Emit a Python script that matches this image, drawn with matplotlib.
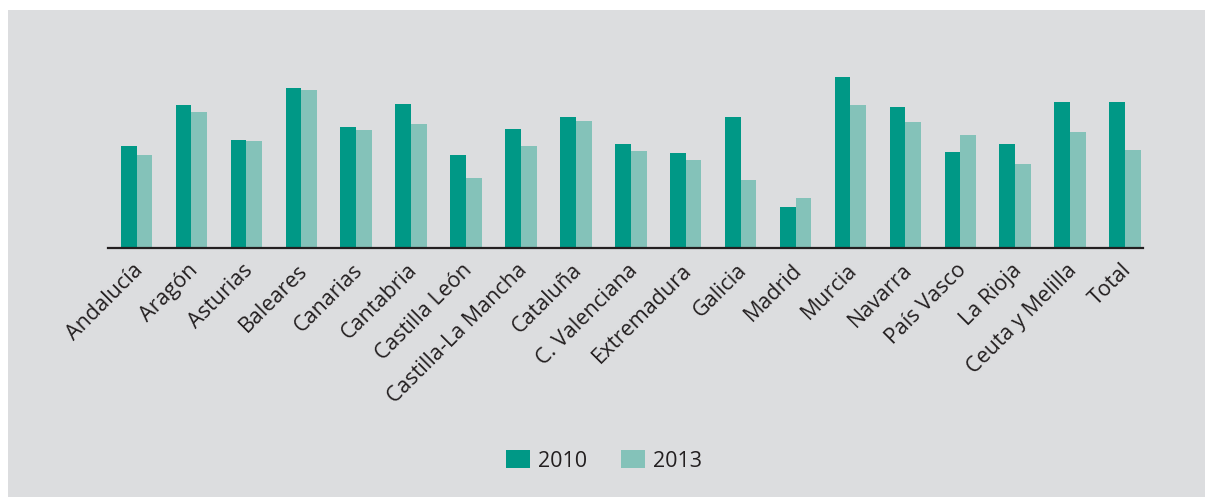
import matplotlib
matplotlib.use("Agg")
import matplotlib.pyplot as plt
import matplotlib.transforms as mtransforms
import numpy as np
from matplotlib.patches import Rectangle, Patch

categories = ["Andalucía", "Aragón", "Asturias", "Baleares", "Canarias", "Cantabria",
              "Castilla León", "Castilla-La Mancha", "Cataluña", "C. Valenciana",
              "Extremadura", "Galicia", "Madrid", "Murcia", "Navarra", "País Vasco",
              "La Rioja", "Ceuta y Melilla", "Total"]
v2010 = [102, 143, 108, 160, 121, 144, 93, 119, 131, 104, 95, 131, 41, 171, 141, 96, 104, 146, 146]
v2013 = [93, 136, 107, 158, 118, 124, 70, 102, 127, 97, 88, 68, 50, 143, 126, 113, 84, 116, 98]
series_labels = ["2010", "2013"]

c2010 = "#009886"
c2013 = "#84c2b9"
bg = "#dcdddf"
txt = "#231f20"

plt.rcParams['font.family'] = ['Open Sans', 'DejaVu Sans']

W, H = 1205, 497
fig = plt.figure(figsize=(W / 100, H / 100), dpi=100)
fig.patch.set_facecolor("white")
fig.patches.append(Rectangle((8 / W, 0), 1 - 8 / W, 1 - 10 / H, transform=fig.transFigure,
                             facecolor=bg, edgecolor="none", zorder=-10))

ax = fig.add_axes([108 / W, 1 - 248 / H, (1143 - 108) / W, 238 / H])
ax.set_facecolor("none")
x = np.arange(len(categories))
w = 0.287
ax.bar(x - w / 2, v2010, width=w, color=c2010, linewidth=0, zorder=2)
ax.bar(x + w / 2, v2013, width=w, color=c2013, linewidth=0, zorder=2)
ax.set_xlim(-0.519, 18.326)
ax.set_ylim(0, 238)

for s in ["top", "right", "left"]:
    ax.spines[s].set_visible(False)
ax.spines["bottom"].set_color(txt)
ax.spines["bottom"].set_linewidth(1.6)
ax.spines["bottom"].set_zorder(3)
ax.set_yticks([])
ax.set_xticks(x)
ax.set_xticklabels(categories, rotation=45, ha="right", va="top", rotation_mode="anchor",
                   fontsize=15.5, color=txt)
ax.tick_params(axis="x", length=0, pad=8.5)
offset = mtransforms.ScaledTranslation(-4 / 100, 0, fig.dpi_scale_trans)
for lab in ax.get_xticklabels():
    lab.set_transform(lab.get_transform() + offset)

handles = [Patch(facecolor=c2010, edgecolor="none"), Patch(facecolor=c2013, edgecolor="none")]
fig.legend(handles, series_labels, loc="center", bbox_to_anchor=(604 / W, 1 - 461 / H),
           ncol=2, frameon=False, fontsize=15.5, labelcolor=txt, handlelength=1.08,
           handleheight=0.92, handletextpad=0.38, columnspacing=1.6)

fig.savefig("out.png", dpi=100, facecolor=fig.get_facecolor())
